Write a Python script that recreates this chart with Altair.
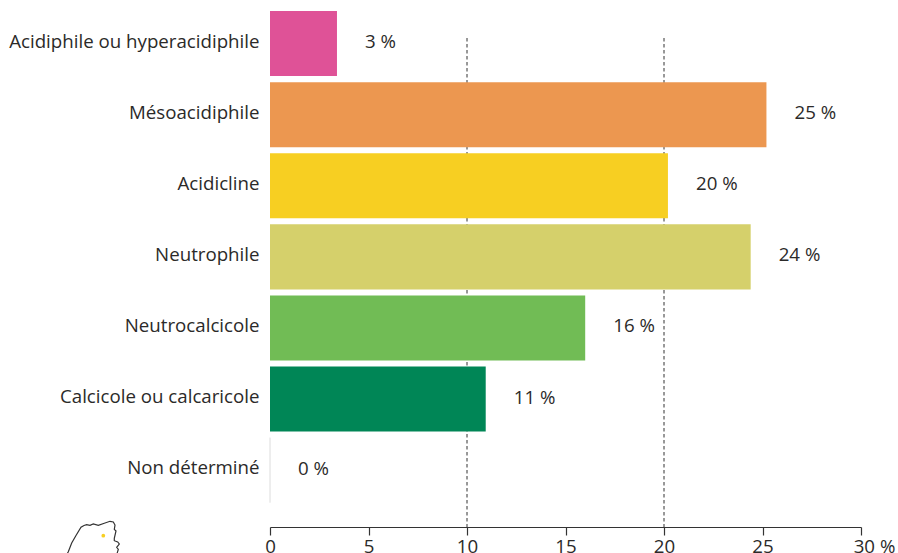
import altair as alt
import pandas as pd

categories = ["Acidiphile ou hyperacidiphile", "Mésoacidiphile", "Acidicline", "Neutrophile",
              "Neutrocalcicole", "Calcicole ou calcaricole", "Non déterminé"]
values = [3.4, 25.2, 20.2, 24.4, 16.0, 10.95, 0.0]
colors = ["#DF5297", "#EC9750", "#F7CF22", "#D5D06B", "#71BC55", "#008656", "#E8E8E8"]
grid_at = [10, 20]
# Locator map outline and site marker, in page-like units
map_x = [66, 68.3, 71.7, 75.7, 81, 84, 86.7, 90, 93.3, 98.3, 104.3, 110, 113.3, 115, 114.3, 116,
         114.3, 114.3, 117.7, 119.3, 116.7, 118.3, 117.3, 117]
map_y = [556, 551.7, 543, 536, 527.3, 525.5, 524.7, 525.3, 524, 525.3, 523.3, 521.3, 522, 525, 529.3,
         531, 538.3, 540.7, 542, 544, 547.3, 549.3, 552.7, 556]
site_x = [103.3]
site_y = [535.7]
ink = "#2B2A29"
font = "Open Sans"
size = 18.7

bars = pd.DataFrame({"milieu": categories, "part": values, "couleur": colors})
bars["texte"] = bars["part"].map(lambda v: f"{v:.0f} %")
outline = pd.DataFrame({"px": map_x, "py": map_y, "n": range(len(map_x))})
site = pd.DataFrame({"px": site_x, "py": site_y})

x_scale = alt.Scale(domain=[0, 30], nice=False, zero=True)
y_scale = alt.Scale(domain=categories, range=[8.2, 505.5], paddingInner=0.085, paddingOuter=0.04)
map_x_scale = alt.Scale(domain=[270, 861], nice=False, zero=False)
map_y_scale = alt.Scale(domain=[527, 0], nice=False, zero=False)

grid = alt.Chart(pd.DataFrame({"g": grid_at})).mark_rule(
    color="#333333", strokeDash=[3.5, 2.5], strokeWidth=1
).encode(
    x=alt.X("g:Q", scale=x_scale, title=None,
            axis=alt.Axis(values=[0, 5, 10, 15, 20, 25, 30], grid=False, domainColor="#333333",
                          domainWidth=1.2, tickColor="#333333", tickSize=8, tickWidth=1.2,
                          labelFont=font, labelFontSize=size, labelColor=ink, labelPadding=2,
                          labelFlush=False, labelOverlap=False,
                          labelExpr="datum.value == 30 ? '30 %' : datum.label",
                          labelOffset=alt.ExprRef("datum.value == 30 ? 13 : 0"))),
    y=alt.value(38), y2=alt.value(527),
)

bar = alt.Chart(bars).mark_bar(opacity=1).encode(
    x=alt.X("part:Q", scale=x_scale),
    y=alt.Y("milieu:N", scale=y_scale, sort=categories, title=None,
            axis=alt.Axis(domain=False, ticks=False, labelFont=font, labelFontSize=size,
                          labelColor=ink, labelPadding=11, labelLimit=300, labelOffset=-1.7)),
    color=alt.Color("couleur:N", scale=None, legend=None),
    stroke=alt.Stroke("couleur:N", scale=None, legend=None),
    strokeWidth=alt.condition("datum.part == 0", alt.value(1), alt.value(0)),
)

labels = alt.Chart(bars).mark_text(align="left", dx=28, dy=-1.5, font=font, fontSize=size, color=ink).encode(
    x=alt.X("part:Q", scale=x_scale),
    y=alt.Y("milieu:N", scale=y_scale, sort=categories),
    text="texte:N",
)

main = grid + bar + labels

map_line = alt.Chart(outline).mark_line(color="#333333", strokeWidth=1.2, clip=False).encode(
    x=alt.X("px:Q", scale=map_x_scale, axis=None),
    y=alt.Y("py:Q", scale=map_y_scale, axis=None),
    order="n:Q",
)
map_dot = alt.Chart(site).mark_point(filled=True, color="#F7CF22", size=14, opacity=1, clip=False).encode(
    x=alt.X("px:Q", scale=map_x_scale, axis=None),
    y=alt.Y("py:Q", scale=map_y_scale, axis=None),
)

chart = alt.layer(main, map_line + map_dot).resolve_scale(x="independent", y="independent").properties(
    width=591, height=527,
    padding={"left": 270, "top": 0, "right": 37, "bottom": 26},
    autosize=alt.AutoSizeParams(type="none"),
    background="white",
).configure_view(strokeWidth=0)

chart.save("out.html", embed_options={"renderer": "svg", "actions": False})
